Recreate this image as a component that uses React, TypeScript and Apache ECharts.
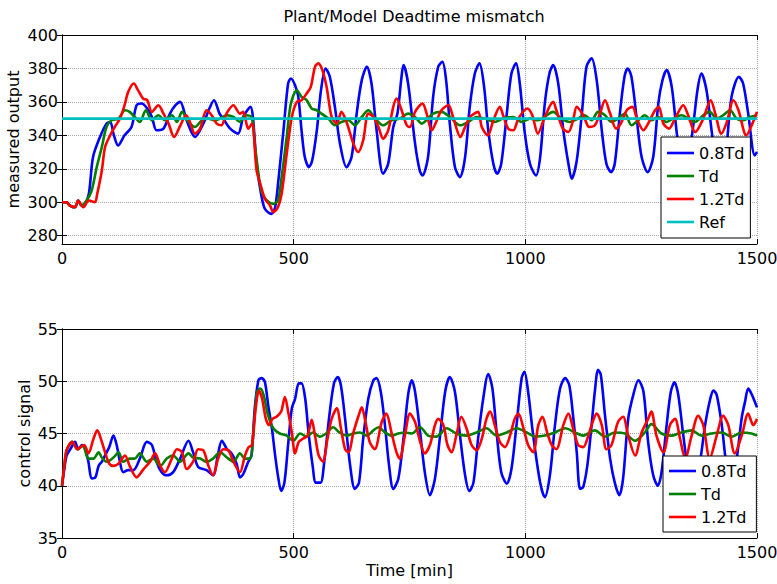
import React, { useEffect, useRef } from "react";
import * as echarts from "echarts";

const TITLE = "Plant/Model Deadtime mismatch";
const SERIES_NAMES = ["0.8Td", "Td", "1.2Td", "Ref"];
const X_TICKS = [0, 500, 1000, 1500];
const TOP_Y_TICKS = [280, 300, 320, 340, 360, 380, 400];
const BOTTOM_Y_TICKS = [35, 40, 45, 50, 55];

// measured output, 0.8Td  [time min, value]
const topBlue = [
  [0, 300], [10, 300], [17, 298], [28, 297], [35, 301], [42, 298], [50, 299], [58, 305], [67, 327], [82, 339],
  [96, 347], [104, 348], [112, 340], [121, 334], [135, 340], [150, 345], [161, 358], [172, 359], [184, 356], [194, 351],
  [204, 343], [219, 344], [233, 353], [245, 358], [255, 360], [269, 349], [287, 339], [305, 347], [318, 356], [328, 361],
  [340, 353], [348, 350], [363, 344], [380, 341], [391, 351], [400, 355], [407, 357], [412, 351], [420, 323], [431, 303],
  [438, 296], [452, 293], [460, 297], [467, 313], [478, 343], [488, 371], [494, 374], [503, 370], [510, 363], [517, 343],
  [524, 327], [533, 321], [540, 325], [550, 343], [559, 367], [569, 380], [578, 375], [589, 357], [600, 335], [614, 321],
  [625, 327], [636, 353], [647, 373], [658, 381], [668, 371], [679, 343], [693, 317], [704, 323], [715, 345], [724, 353],
  [732, 373], [737, 382], [747, 371], [762, 335], [772, 319], [778, 316], [790, 327], [801, 363], [812, 381], [821, 384],
  [829, 373], [837, 347], [848, 321], [859, 315], [870, 327], [880, 357], [891, 377], [901, 383], [911, 369], [920, 343],
  [931, 323], [939, 317], [948, 323], [960, 353], [970, 377], [980, 383], [988, 371], [999, 341], [1010, 323], [1023, 316],
  [1032, 327], [1042, 359], [1052, 377], [1060, 382], [1071, 371], [1082, 343], [1093, 323], [1100, 314], [1111, 325], [1122, 353],
  [1132, 381], [1143, 386], [1154, 373], [1165, 343], [1175, 323], [1185, 318], [1193, 323], [1204, 353], [1214, 375], [1221, 380],
  [1229, 375], [1240, 351], [1251, 327], [1264, 318], [1276, 327], [1287, 359], [1296, 373], [1305, 379], [1316, 369], [1327, 341],
  [1337, 322], [1344, 318], [1352, 325], [1362, 345], [1372, 368], [1380, 377], [1391, 367], [1402, 343], [1413, 322], [1423, 318],
  [1433, 330], [1445, 363], [1461, 375], [1470, 371], [1481, 353], [1495, 328], [1500, 330],
];

// measured output, Td
const topGreen = [
  [0, 300], [10, 300], [17, 298], [28, 297], [35, 301], [42, 298], [53, 301], [64, 307], [75, 321], [86, 333],
  [96, 345], [107, 349], [122, 350], [136, 355], [146, 354], [157, 351], [168, 348], [181, 355], [194, 349], [208, 352],
  [222, 349], [237, 352], [248, 348], [259, 354], [273, 348], [287, 345], [302, 349], [316, 350], [330, 349], [341, 350],
  [356, 352], [370, 351], [384, 348], [395, 352], [409, 351], [416, 335], [424, 317], [431, 306], [442, 301], [456, 299],
  [466, 301], [474, 315], [485, 339], [494, 359], [507, 367], [517, 363], [528, 361], [539, 356], [550, 355], [560, 353],
  [575, 350], [589, 346], [603, 348], [618, 349], [632, 346], [647, 351], [661, 355], [676, 350], [693, 346], [711, 349],
  [729, 350], [747, 353], [762, 351], [776, 347], [801, 353], [819, 354], [837, 351], [859, 346], [877, 348], [895, 351],
  [913, 350], [934, 348], [952, 350], [974, 351], [992, 348], [1010, 350], [1028, 349], [1046, 352], [1060, 354], [1078, 350],
  [1096, 348], [1114, 350], [1128, 352], [1143, 349], [1157, 354], [1172, 352], [1186, 348], [1200, 350], [1215, 353], [1229, 346],
  [1244, 349], [1258, 352], [1272, 349], [1287, 351], [1305, 348], [1319, 350], [1337, 352], [1352, 350], [1366, 348], [1384, 352],
  [1398, 354], [1413, 350], [1427, 352], [1442, 355], [1456, 350], [1471, 349], [1485, 351], [1500, 352],
];

// measured output, 1.2Td
const topRed = [
  [0, 300], [10, 300], [17, 298], [28, 297], [35, 301], [46, 297], [58, 301], [71, 300], [76, 305], [86, 319],
  [93, 333], [104, 340], [114, 345], [125, 350], [134, 357], [143, 366], [155, 371], [164, 367], [175, 362], [184, 361],
  [194, 354], [208, 358], [219, 353], [230, 347], [242, 339], [254, 345], [268, 352], [276, 348], [287, 341], [298, 344],
  [312, 355], [323, 352], [334, 347], [344, 346], [355, 353], [370, 358], [384, 353], [391, 354], [402, 344], [410, 347],
  [420, 319], [428, 311], [438, 302], [449, 298], [456, 294], [466, 297], [474, 305], [485, 329], [496, 351], [507, 360],
  [517, 361], [528, 365], [537, 369], [546, 381], [553, 383], [562, 379], [571, 369], [582, 351], [593, 347], [603, 354],
  [614, 348], [629, 335], [639, 330], [650, 337], [661, 353], [672, 351], [683, 345], [693, 338], [704, 343], [715, 357],
  [722, 362], [733, 355], [744, 346], [751, 345], [762, 354], [778, 359], [787, 353], [798, 343], [806, 347], [819, 355],
  [834, 358], [844, 351], [860, 339], [870, 345], [881, 351], [898, 354], [906, 345], [919, 340], [931, 349], [945, 357],
  [952, 352], [963, 344], [974, 343], [985, 350], [1004, 356], [1015, 352], [1027, 341], [1042, 351], [1060, 360], [1067, 355],
  [1081, 344], [1093, 342], [1103, 349], [1111, 357], [1125, 352], [1138, 345], [1150, 346], [1161, 353], [1172, 361], [1183, 353],
  [1196, 344], [1206, 347], [1219, 355], [1231, 357], [1242, 349], [1255, 343], [1265, 347], [1280, 355], [1288, 357], [1298, 347],
  [1310, 344], [1323, 350], [1341, 358], [1350, 353], [1367, 342], [1384, 350], [1400, 361], [1410, 353], [1423, 341], [1435, 348],
  [1449, 361], [1460, 355], [1477, 340], [1490, 347], [1500, 354],
];

const topRef = [[0, 350], [1500, 350]];

// control signal, 0.8Td
const bottomBlue = [
  [0, 40], [5, 41.6], [10, 42.9], [18, 43.5], [28, 44.2], [35, 43.5], [43, 43.9], [50, 43.5], [57, 42.3], [64, 40.7],
  [72, 40.8], [79, 41.9], [86, 42.3], [93, 42.9], [102, 43.7], [111, 44.8], [118, 43.9], [125, 42.3], [132, 41.3], [143, 41.5],
  [154, 41.5], [168, 42.6], [183, 44.2], [194, 43.9], [204, 42.3], [215, 41.3], [226, 41.0], [240, 41.3], [255, 42.6], [273, 44.3],
  [283, 43.2], [294, 41.8], [312, 41.5], [326, 41.0], [337, 43.1], [345, 44.3], [356, 43.5], [366, 43.1], [377, 42.1], [384, 40.8],
  [391, 41.1], [402, 42.3], [409, 42.9], [416, 47.4], [424, 50.1], [431, 50.3], [438, 49.9], [445, 47.7], [453, 45.5], [460, 42.9],
  [467, 40.7], [473, 39.5], [480, 40.3], [488, 43.9], [496, 47.4], [503, 48.3], [511, 49.8], [517, 49.8], [525, 48.3], [532, 45.1],
  [541, 41.9], [548, 40.3], [558, 40.3], [566, 42.3], [577, 46.7], [587, 49.8], [595, 50.4], [602, 49.6], [611, 46.4], [622, 41.9],
  [632, 39.7], [641, 40.3], [650, 44.5], [661, 48.3], [672, 50.1], [679, 50.3], [688, 49.0], [697, 45.8], [706, 41.9], [715, 39.7],
  [726, 40.7], [737, 44.5], [747, 48.7], [755, 50.1], [762, 49.0], [773, 45.1], [783, 41.3], [794, 39.1], [805, 40.7], [816, 44.8],
  [827, 49.0], [837, 50.4], [848, 49.0], [859, 44.8], [870, 41.0], [879, 39.5], [888, 40.3], [898, 44.5], [909, 48.3], [920, 50.7],
  [929, 49.3], [938, 45.1], [948, 41.3], [960, 40.2], [970, 41.6], [981, 45.8], [992, 50.3], [998, 50.9], [1006, 49.0], [1017, 44.8],
  [1032, 40.3], [1042, 38.9], [1053, 41.0], [1064, 45.8], [1075, 49.3], [1086, 50.3], [1095, 49.6], [1103, 46.7], [1111, 43.2], [1118, 39.7],
  [1125, 39.9], [1134, 42.0], [1143, 45.8], [1150, 49.0], [1157, 51.1], [1163, 50.6], [1172, 46.7], [1183, 42.6], [1193, 40.3], [1203, 39.1],
  [1211, 40.7], [1222, 46.4], [1233, 48.7], [1244, 50.1], [1255, 49.0], [1265, 44.2], [1276, 41.0], [1286, 40.0], [1294, 41.3], [1305, 45.8],
  [1314, 49.0], [1322, 49.9], [1330, 48.7], [1341, 44.8], [1352, 41.3], [1364, 40.0], [1376, 42.0], [1388, 45.8], [1399, 48.3], [1406, 49.1],
  [1413, 48.7], [1424, 45.8], [1434, 42.0], [1445, 40.2], [1456, 42.5], [1467, 46.5], [1474, 48.0], [1481, 49.3], [1488, 48.8], [1500, 47.5],
];

// control signal, Td
const bottomGreen = [
  [0, 40], [5, 41.9], [10, 43.4], [22, 44.2], [33, 43.5], [45, 43.8], [57, 42.6], [68, 42.6], [79, 43.2], [86, 42.7],
  [96, 42.3], [111, 42.7], [122, 43.2], [132, 42.3], [146, 42.6], [157, 42.6], [168, 43.1], [183, 42.3], [197, 42.6], [212, 41.9],
  [226, 42.6], [240, 42.9], [255, 42.3], [273, 43.1], [283, 42.7], [298, 42.6], [312, 42.3], [326, 42.6], [341, 43.2], [356, 42.7],
  [370, 42.3], [384, 43.1], [395, 42.6], [406, 42.6], [414, 45.8], [421, 49.0], [428, 49.3], [435, 48.7], [445, 46.7], [456, 45.5],
  [470, 45.0], [485, 44.8], [499, 44.3], [514, 45.0], [528, 44.7], [541, 45.1], [556, 44.7], [570, 45.0], [585, 45.6], [599, 45.1],
  [614, 44.8], [629, 45.0], [643, 45.1], [658, 44.8], [672, 45.3], [683, 45.6], [697, 45.1], [711, 44.8], [726, 45.0], [740, 45.1],
  [755, 45.0], [773, 45.6], [790, 44.8], [808, 44.7], [830, 45.5], [851, 45.0], [873, 44.8], [895, 45.1], [916, 45.5], [938, 44.8],
  [960, 45.1], [981, 45.5], [1003, 45.1], [1021, 44.7], [1042, 44.8], [1064, 45.1], [1086, 45.5], [1107, 45.1], [1125, 44.8], [1150, 45.3],
  [1172, 44.7], [1193, 45.1], [1215, 45.0], [1237, 44.3], [1258, 45.1], [1272, 45.9], [1294, 45.0], [1316, 44.8], [1337, 45.1], [1359, 45.3],
  [1380, 44.8], [1402, 45.0], [1424, 45.1], [1445, 44.7], [1467, 45.1], [1488, 45.0], [1500, 44.8],
];

// control signal, 1.2Td
const bottomRed = [
  [0, 40], [5, 41.9], [10, 43.4], [22, 44.2], [33, 43.5], [40, 43.7], [48, 43.9], [57, 43.1], [68, 44.5], [76, 45.3],
  [86, 44.2], [93, 43.2], [102, 42.1], [111, 41.9], [122, 42.1], [136, 42.9], [146, 41.9], [161, 40.8], [176, 41.6], [190, 42.3],
  [201, 43.1], [212, 41.9], [222, 41.3], [237, 42.6], [248, 43.5], [259, 43.2], [269, 41.6], [283, 42.3], [294, 43.5], [305, 43.4],
  [316, 41.9], [326, 41.0], [337, 42.6], [348, 43.5], [359, 43.4], [370, 42.3], [384, 41.3], [395, 42.9], [403, 43.7], [410, 43.9],
  [418, 47.4], [425, 49.1], [432, 48.3], [440, 46.4], [447, 45.8], [454, 46.4], [463, 46.6], [473, 47.1], [481, 48.5], [488, 47.1],
  [496, 45.1], [503, 43.1], [511, 44.2], [520, 44.5], [530, 44.8], [539, 46.3], [546, 44.8], [554, 42.9], [563, 42.3], [573, 44.5],
  [582, 46.4], [593, 47.4], [602, 45.5], [611, 43.5], [618, 43.2], [629, 45.1], [640, 46.7], [647, 47.5], [655, 46.1], [664, 44.2],
  [675, 43.5], [690, 46.1], [700, 46.9], [711, 45.1], [722, 43.2], [729, 42.6], [740, 44.8], [751, 46.9], [762, 46.1], [773, 44.2],
  [783, 43.1], [794, 43.9], [805, 45.8], [812, 46.4], [823, 45.8], [832, 43.9], [841, 43.2], [851, 44.8], [862, 46.6], [873, 45.5],
  [884, 43.9], [895, 43.4], [906, 44.5], [916, 46.4], [924, 47.1], [934, 45.8], [945, 44.2], [956, 43.7], [967, 44.8], [977, 46.4],
  [985, 46.9], [996, 45.5], [1006, 43.9], [1017, 43.2], [1028, 45.8], [1037, 46.6], [1047, 45.1], [1057, 43.9], [1067, 43.5], [1082, 45.8],
  [1093, 46.9], [1103, 45.5], [1114, 43.9], [1125, 43.7], [1136, 44.8], [1143, 45.8], [1154, 46.9], [1165, 45.8], [1175, 43.5], [1186, 43.9],
  [1200, 46.1], [1211, 46.6], [1222, 44.8], [1237, 42.9], [1251, 45.1], [1265, 46.4], [1272, 47.1], [1283, 44.8], [1298, 43.2], [1312, 45.8],
  [1323, 46.4], [1334, 44.5], [1345, 42.6], [1359, 44.8], [1373, 46.7], [1384, 45.8], [1398, 42.6], [1413, 44.8], [1427, 46.7], [1438, 45.8],
  [1452, 43.1], [1467, 44.8], [1481, 46.9], [1492, 45.8], [1500, 46.4],
];

const FONT = "'DejaVu Sans', 'Liberation Sans', sans-serif";
const COLORS = ["#0000ff", "#008000", "#ff0000", "#00bfbf"];
const LEGEND_ICON = "path://M0,0H27V2.6H0Z";

export default function App() {
  const ref = useRef<HTMLDivElement>(null);

  useEffect(() => {
    if (!ref.current) return;
    const chart = echarts.init(ref.current, null, { renderer: "svg" });

    const grids = [
      { left: 62, top: 35, width: 695, height: 209, outerBoundsMode: "none", containLabel: false },
      { left: 62, top: 329, width: 695, height: 209, outerBoundsMode: "none", containLabel: false },
    ];

    const gridSplit = { show: true, lineStyle: { color: "#a8a8a8", type: "dotted" as const, width: 1 } };
    const axisLine = { show: true, lineStyle: { color: "#000", width: 1 } };
    const tick = { show: true, inside: true, length: 5, lineStyle: { color: "#000", width: 1 } };
    const label = { color: "#000", fontSize: 16, fontFamily: FONT, formatter: (v: number) => String(v) };

    const xAxes: any[] = [];
    [0, 1].forEach((g) => {
      xAxes.push({
        type: "value", gridIndex: g, position: "bottom", min: 0, max: 1500, interval: 500,
        axisLine, axisTick: { ...tick, customValues: X_TICKS },
        axisLabel: { ...label, margin: 6, customValues: X_TICKS },
        splitLine: gridSplit,
        name: g === 1 ? "Time [min]" : "",
        nameLocation: "middle", nameGap: 24, nameMoveOverlap: false,
        nameTextStyle: { color: "#000", fontSize: 16, fontFamily: FONT },
      });
      xAxes.push({
        type: "value", gridIndex: g, position: "top", min: 0, max: 1500, interval: 500,
        axisLine, axisTick: { ...tick, customValues: X_TICKS },
        axisLabel: { show: false }, splitLine: { show: false },
      });
    });

    const yDefs = [
      { min: 275, max: 400, ticks: TOP_Y_TICKS, name: "measured output", gap: 41 },
      { min: 35, max: 55, ticks: BOTTOM_Y_TICKS, name: "control signal", gap: 30 },
    ];
    const yAxes: any[] = [];
    yDefs.forEach((d, g) => {
      yAxes.push({
        type: "value", gridIndex: g, position: "left", min: d.min, max: d.max,
        axisLine, axisTick: { ...tick, customValues: d.ticks },
        axisLabel: { ...label, margin: 4, customValues: d.ticks },
        splitLine: gridSplit,
        name: d.name, nameLocation: "middle", nameGap: d.gap, nameMoveOverlap: false,
        nameTextStyle: { color: "#000", fontSize: 16, fontFamily: FONT },
      });
      yAxes.push({
        type: "value", gridIndex: g, position: "right", min: d.min, max: d.max,
        axisLine, axisTick: { ...tick, customValues: d.ticks },
        axisLabel: { show: false }, splitLine: { show: false },
      });
    });

    const mk = (name: string, color: string, data: number[][], xi: number, yi: number, smooth: number | boolean = 0.3) => ({
      name, type: "line", xAxisIndex: xi, yAxisIndex: yi, data, symbol: "none", showSymbol: false,
      smooth, lineStyle: { color, width: 2.6 }, itemStyle: { color }, emphasis: { disabled: true },
    });

    const legendCommon = {
      orient: "vertical" as const,
      icon: LEGEND_ICON,
      itemWidth: 27, itemHeight: 16, itemGap: 7,
      backgroundColor: "#fff", borderColor: "#000", borderWidth: 1, borderRadius: 0,
      textStyle: { color: "#000", fontSize: 16, fontFamily: FONT },
      selectedMode: false,
    };

    chart.setOption({
      animation: false,
      backgroundColor: "#fff",
      title: {
        text: TITLE, left: 409, top: 3, textAlign: "center",
        textStyle: { color: "#000", fontSize: 16, fontWeight: "normal", fontFamily: FONT },
      },
      grid: grids,
      xAxis: xAxes,
      yAxis: yAxes,
      legend: [
        { ...legendCommon, data: SERIES_NAMES, left: 661, top: 137, padding: [8, 6, 8, 6] },
        { ...legendCommon, data: SERIES_NAMES.slice(0, 3), left: 663, top: 456, padding: [7, 10, 7, 6] },
      ],
      series: [
        mk(SERIES_NAMES[0], COLORS[0], topBlue, 0, 0),
        mk(SERIES_NAMES[1], COLORS[1], topGreen, 0, 0),
        mk(SERIES_NAMES[2], COLORS[2], topRed, 0, 0),
        mk(SERIES_NAMES[3], COLORS[3], topRef, 0, 0, false),
        mk(SERIES_NAMES[0], COLORS[0], bottomBlue, 2, 2),
        mk(SERIES_NAMES[1], COLORS[1], bottomGreen, 2, 2),
        mk(SERIES_NAMES[2], COLORS[2], bottomRed, 2, 2),
      ],
    });

    return () => chart.dispose();
  }, []);

  return (
    <div
      ref={ref}
      style={{ position: "absolute", left: 0, top: 0, width: 777, height: 584, background: "#fff" }}
    />
  );
}
